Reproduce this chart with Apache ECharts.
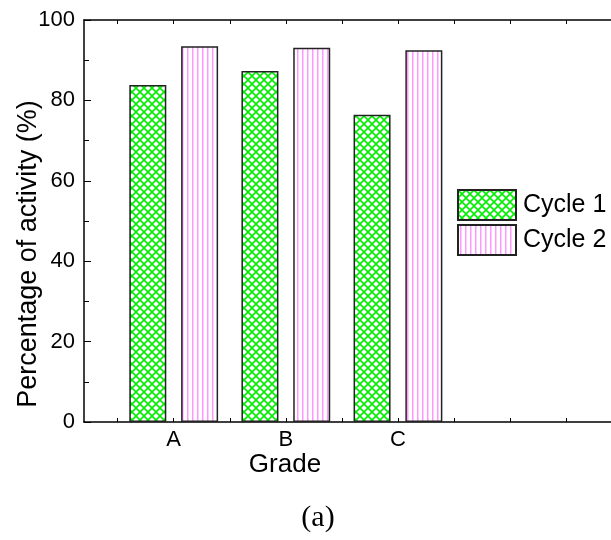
<!DOCTYPE html>
<html>
<head>
<meta charset="utf-8">
<script src="https://cdn.jsdelivr.net/npm/echarts@6/dist/echarts.min.js"></script>
<style>
  html, body { margin: 0; padding: 0; background: #fff; }
  #main { width: 611px; height: 540px; }
</style>
</head>
<body>
<div id="main"></div>
<script>
const grades = ['A', 'B', 'C'];
const cycle1 = [83.8, 87.3, 76.4];
const cycle2 = [93.5, 93.1, 92.5];
const yTicks = [0, 20, 40, 60, 80, 100];

// hatch patterns drawn on small canvases
const makePattern = (size, drawFn) => {
  const c = document.createElement('canvas');
  c.width = size;
  c.height = size;
  const ctx = c.getContext('2d');
  ctx.fillStyle = '#fff';
  ctx.fillRect(0, 0, size, size);
  drawFn(ctx, size);
  return { image: c, repeat: 'repeat' };
};

const cross = makePattern(8, (ctx, s) => {
  ctx.strokeStyle = '#00ee00';
  ctx.lineWidth = 1.6;
  ctx.beginPath();
  ctx.moveTo(-1, -1); ctx.lineTo(s + 1, s + 1);
  ctx.moveTo(s + 1, -1); ctx.lineTo(-1, s + 1);
  ctx.stroke();
});

const vlines = makePattern(5, (ctx, s) => {
  ctx.fillStyle = '#ff99ff';
  ctx.fillRect(2, 0, 1.5, s);
});

const font = 'Liberation Sans, Arial, sans-serif';
const xTicks = [0.5, 1, 1.5, 2, 2.5, 3, 3.5, 4, 4.5];

const myChart = echarts.init(document.getElementById('main'));

const xBase = {
  type: 'value',
  min: 0.2,
  max: 4.9,
  splitLine: { show: false },
  axisLine: { lineStyle: { color: '#000', width: 1.5 } },
  axisTick: { inside: true, length: 4, customValues: xTicks, lineStyle: { color: '#000' } }
};

const option = {
  animation: false,
  grid: { left: 84, right: 0, top: 20, bottom: 118, outerBoundsMode: 'none' },
  legend: {
    left: 457,
    top: 189,
    padding: 0,
    orient: 'vertical',
    icon: 'rect',
    itemWidth: 58,
    itemHeight: 30,
    itemGap: 3,
    textStyle: { fontFamily: font, fontSize: 25, color: '#000', padding: [0, 0, 0, 2] },
    data: ['Cycle 1', 'Cycle 2']
  },
  xAxis: [
    Object.assign({}, xBase, {
      position: 'bottom',
      axisLabel: {
        customValues: [1, 2, 3],
        formatter: (v) => grades[Math.round(v) - 1] || '',
        fontFamily: font,
        fontSize: 22,
        color: '#000',
        margin: 7
      }
    }),
    Object.assign({}, xBase, {
      position: 'top',
      axisLabel: { show: false }
    })
  ],
  yAxis: {
    type: 'value',
    min: 0,
    max: 100,
    interval: 20,
    splitLine: { show: false },
    axisLine: { show: true, lineStyle: { color: '#000', width: 1.5 } },
    axisTick: { inside: true, length: 7, lineStyle: { color: '#000' } },
    minorTick: { show: true, splitNumber: 2, length: 5, lineStyle: { color: '#000' } },
    axisLabel: {
      formatter: (v) => (yTicks.includes(v) ? String(v) : ''),
      fontFamily: font,
      fontSize: 22,
      color: '#000',
      margin: 9
    }
  },
  series: [
    {
      name: 'Cycle 1',
      type: 'bar',
      barWidth: 37,
      barGap: '40%',
      itemStyle: { color: cross, borderColor: '#222', borderWidth: 1.5 },
      data: cycle1.map((v, i) => [i + 1, v])
    },
    {
      name: 'Cycle 2',
      type: 'bar',
      barWidth: 37,
      barGap: '40%',
      itemStyle: { color: vlines, borderColor: '#222', borderWidth: 1.5 },
      data: cycle2.map((v, i) => [i + 1, v])
    }
  ],
  graphic: [
    {
      type: 'text',
      x: 29,
      y: 254,
      rotation: Math.PI / 2,
      style: {
        text: 'Percentage of activity (%)',
        font: '27px ' + font,
        fill: '#000',
        align: 'center',
        verticalAlign: 'middle'
      }
    },
    {
      type: 'text',
      x: 285,
      y: 452,
      style: { text: 'Grade', font: '26px ' + font, fill: '#000', align: 'center' }
    },
    {
      type: 'text',
      x: 318,
      y: 503,
      style: { text: '(a)', font: '30px Liberation Serif, Times New Roman, serif', fill: '#000', align: 'center' }
    }
  ]
};

myChart.setOption(option);
</script>
</body>
</html>
